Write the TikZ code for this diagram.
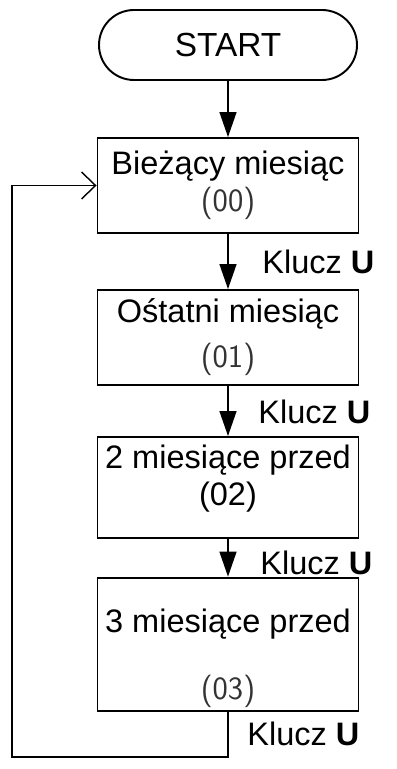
\documentclass[tikz,border=0pt]{standalone}
\usepackage{fontspec}
\setmainfont{Liberation Sans}
\usetikzlibrary{arrows.meta}
\newcommand{\kod}[1]{{\sffamily\color{black!80}#1}}
\begin{document}
\begin{tikzpicture}[every node/.style={font=\fontsize{18.5}{22}\selectfont}]
        \tikzset{box/.style = {draw, line width=1.1pt, minimum width=5.22cm, align=center, inner sep=2pt},
                 edge/.style = {-{Triangle[length=5mm,width=3.4mm]}, line width=0.8pt},
                 back/.style = {-{Straight Barb[length=2.8mm,width=5.4mm]}, line width=0.8pt},
                 key/.style = {anchor=west, inner sep=0pt}}
        \useasboundingbox (0,0) rectangle (7.94,15.38);
        \node[box, rounded corners=0.7cm, minimum width=5.16cm, minimum height=1.4cm,
              font=\fontsize{19}{22}\selectfont] (start) at (4.56,14.48) {START};
        
        \node[box, minimum height=1.9cm] (b1) at (4.56,11.67) {Bieżący miesiąc\\[-1pt]\kod{(00)}};
        \node[box, minimum height=1.9cm] (b2) at (4.56,8.63) {Ośtatni miesiąc\\[3.5pt]\kod{(01)}};
        \node[box, minimum height=2.02cm] (b3) at (4.56,5.63) {2 miesiące przed\\[-1pt](02)\rule[-14pt]{0pt}{0pt}};
        \node[box, minimum height=2.34cm] (b4) at (4.56,2.49) {\rule{0pt}{29pt}3 miesiące przed\\[16.5pt]\kod{(03)}};
        
        \node[key] (k1) at (5.24,10.14) {Klucz \textbf{U}};
        \node[key] (k2) at (5.16,7.14) {Klucz \textbf{U}};
        \node[key] (k3) at (5.20,4.13) {Klucz \textbf{U}};
        \node[key] (k4) at (4.94,0.70) {Klucz \textbf{U}};
        
        \coordinate (bend) at (0.24,0.24);
        
        \draw[edge] (start) -- (b1);
        \draw[edge] (b1) -- (b2);
        \draw[edge] (b2) -- (b3);
        \draw[edge] (b3) -- (b4);
        \draw[back] (b4.south) |- (bend) |- (b1.west);
\end{tikzpicture}
\end{document}
